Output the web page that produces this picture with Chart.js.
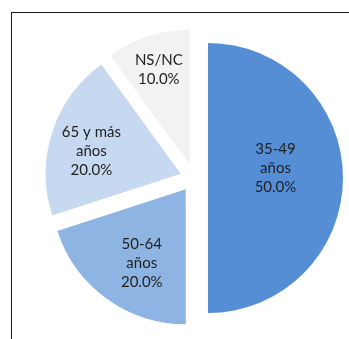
<!DOCTYPE html>
<html>
<head>
<meta charset="utf-8">
<script src="https://cdn.jsdelivr.net/npm/chart.js@4.4.1/dist/chart.umd.min.js"></script>
<style>
  html, body { margin: 0; padding: 0; background: #fff; }
  #wrap { position: absolute; left: 0; top: 0; width: 349px; height: 339px; }
  #frame { position: absolute; left: 11px; top: 12px; width: 400px; height: 400px; border: 1px solid #1a1a1a; box-sizing: border-box; }
</style>
</head>
<body>
<div id="frame"></div>
<div id="wrap"><canvas id="pie"></canvas></div>
<script>
// ====== Datos ======
const categorias = [['35-49', 'años'], ['50-64', 'años'], ['65 y más', 'años'], ['NS/NC']];
const porcentajes = [50.0, 20.0, 20.0, 10.0];
const colores = ['#558ed5', '#8eb4e3', '#c6d9f1', '#f2f2f2'];

const RADIO = 135;
// Chart.js desplaza cada sector offset/4 px
const DESPLAZ = 56;

// ====== Mismo radio y ángulo para todos los sectores separados ======
// (Chart.js agranda el radio y estrecha el ángulo de los sectores separados)
const radioFijo = {
  id: 'radioFijo',
  beforeDatasetsDraw(chart) {
    chart.getDatasetMeta(0).data.forEach(arc => {
      const extra = (arc.options.offset / 4) * (1 - Math.sin(Math.min(Math.PI, arc.circumference)));
      arc.outerRadius = RADIO - extra;
      const giro = extra / Math.PI / 2 / RADIO;
      arc.startAngle -= giro;
      arc.endAngle += giro;
    });
  }
};

// ====== Etiquetas dentro de cada sector ======
const etiquetasPie = {
  id: 'etiquetasPie',
  afterDatasetsDraw(chart, args, opts) {
    const { ctx } = chart;
    const meta = chart.getDatasetMeta(0);
    ctx.save();
    ctx.font = '15px Lato';
    ctx.fillStyle = '#1f1f1f';
    ctx.textAlign = 'center';
    ctx.textBaseline = 'middle';
    meta.data.forEach((arc, i) => {
      const { x, y, startAngle, endAngle } = arc;
      const mid = (startAngle + endAngle) / 2;
      const dist = arc.options.offset / 4 + opts.radios[i] * RADIO;
      const cx = x + Math.cos(mid) * dist + opts.ajustes[i][0];
      const cy = y + Math.sin(mid) * dist + opts.ajustes[i][1];
      const lineas = [...categorias[i], porcentajes[i].toFixed(1) + '%'];
      lineas.forEach((t, j) => {
        ctx.fillText(t, cx, cy + (j - (lineas.length - 1) / 2) * 19);
      });
    });
    ctx.restore();
  }
};

new Chart(document.getElementById('pie'), {
  type: 'pie',
  data: {
    labels: categorias.map(c => c.join(' ')),
    datasets: [{
      data: porcentajes,
      backgroundColor: colores,
      borderWidth: 0,
      offset: DESPLAZ
    }]
  },
  options: {
    responsive: true,
    maintainAspectRatio: false,
    animation: false,
    radius: RADIO,
    layout: { padding: { left: 40, right: 1, top: 20, bottom: 3 } },
    plugins: {
      legend: { display: false },
      tooltip: { enabled: false },
      etiquetasPie: {
        radios: [0.5, 0.63, 0.68, 0.74],
        ajustes: [[0, -10], [6, 5], [-2, 6], [0, 0]]
      }
    }
  },
  plugins: [radioFijo, etiquetasPie]
});
</script>
</body>
</html>
